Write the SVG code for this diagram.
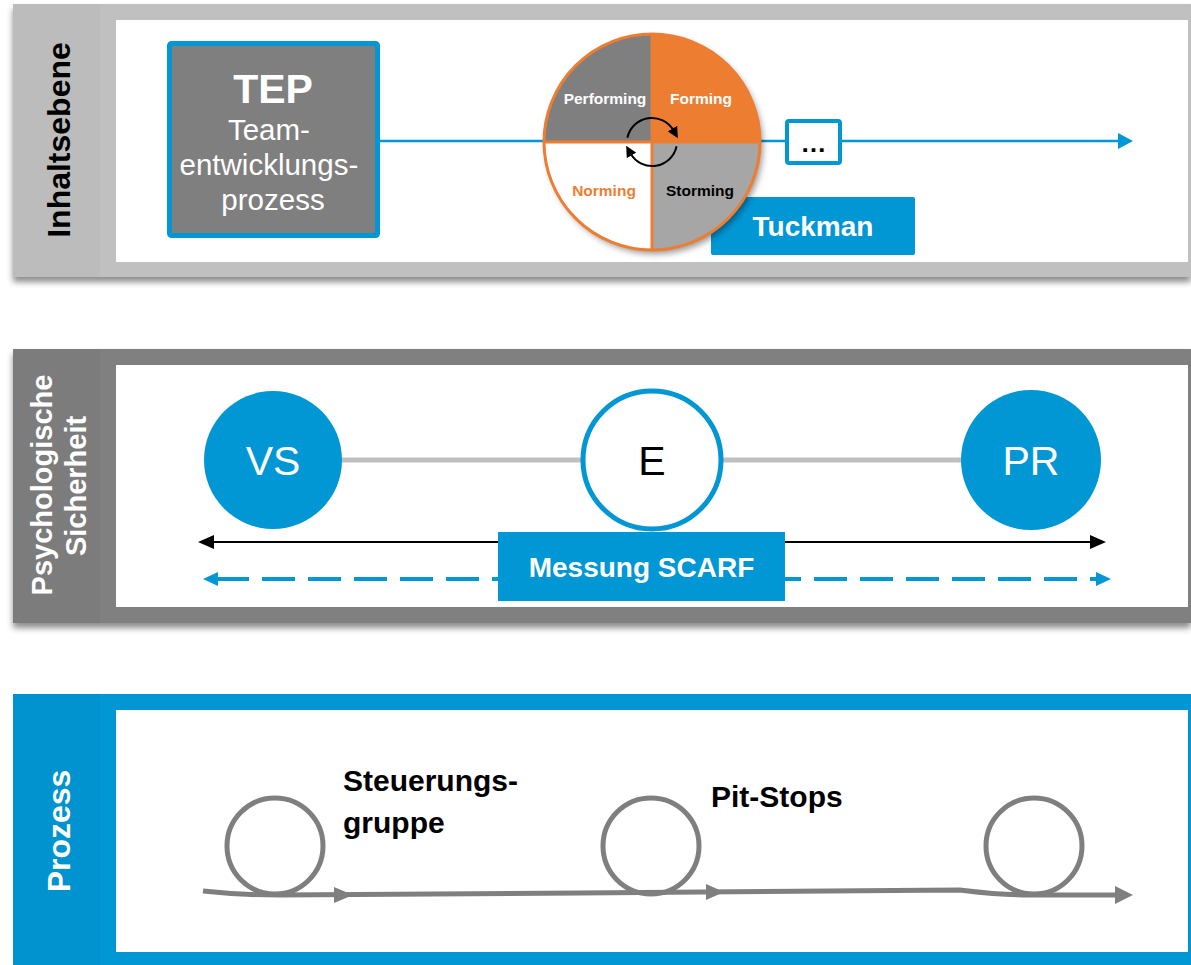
<svg xmlns="http://www.w3.org/2000/svg" width="1191" height="965" viewBox="0 0 1191 965">
  <defs>
    <filter id="panelShadow" x="-5%" y="-10%" width="110%" height="130%">
      <feDropShadow dx="0" dy="5" stdDeviation="3" flood-color="#000" flood-opacity="0.45"/>
    </filter>
    <filter id="discShadow" x="-20%" y="-20%" width="140%" height="140%">
      <feDropShadow dx="3" dy="4" stdDeviation="3" flood-color="#000" flood-opacity="0.4"/>
    </filter>
    <marker id="cycleHead" viewBox="0 0 10 10" refX="2" refY="5" markerWidth="11" markerHeight="11" markerUnits="userSpaceOnUse" orient="auto">
      <path d="M0,0 L10,5 L0,10 Z" fill="#000"/>
    </marker>
    <style>
      text { font-family: "Liberation Sans", Arial, sans-serif; }
      .blue { fill: #0097d4; }
      .inner { fill: #ffffff; }
      .sideLabel { font-weight: bold; font-size: 32px; text-anchor: middle; }
      .phase { font-weight: bold; font-size: 15.5px; text-anchor: middle; }
      .badge { font-weight: bold; font-size: 28px; fill: #fff; text-anchor: middle; }
      .stage { font-size: 41px; text-anchor: middle; }
      .link { stroke: #bfbfbf; stroke-width: 5; fill: none; }
      .loop { stroke: #7f7f7f; stroke-width: 5; fill: none; }
      .loopHead { fill: #7f7f7f; }
      .procLabel { font-weight: bold; font-size: 30px; fill: #000; }
    </style>
  </defs>

  <!-- Panel 1: Inhaltsebene -->
  <g id="panel-inhalt">
    <rect x="13" y="4" width="1178" height="273" fill="#c0c0c0" filter="url(#panelShadow)"/>
    <rect x="13" y="4" width="87" height="273" fill="#bcbcbc"/>
    <rect x="116" y="20" width="1072" height="242" class="inner"/>
    <text class="sideLabel" fill="#000" transform="translate(70,140) rotate(-90)">Inhaltsebene</text>
  </g>

  <!-- Panel 2: Psychologische Sicherheit -->
  <g id="panel-psych">
    <rect x="13" y="349" width="1178" height="274" fill="#808080" filter="url(#panelShadow)"/>
    <rect x="13" y="349" width="87" height="274" fill="#7c7c7c"/>
    <rect x="116" y="365" width="1072" height="242" class="inner"/>
    <text class="sideLabel" fill="#fff" style="font-size:29px" transform="translate(52,485) rotate(-90)">Psychologische</text>
    <text class="sideLabel" fill="#fff" style="font-size:29px" transform="translate(86,486) rotate(-90)">Sicherheit</text>
  </g>

  <!-- Panel 3: Prozess -->
  <g id="panel-prozess">
    <rect x="13" y="694" width="1178" height="271" class="blue"/>
    <rect x="13" y="694" width="87" height="271" fill="#0093d0"/>
    <rect x="116" y="710" width="1072" height="242" class="inner"/>
    <text class="sideLabel" fill="#fff" transform="translate(70,831) rotate(-90)">Prozess</text>
  </g>

  <!-- Connectors -->
  <g id="connectors">
    <!-- content timeline -->
    <line x1="380" y1="141" x2="1120" y2="141" stroke="#0097d4" stroke-width="2.5"/>
    <polygon points="1118,133 1133,141 1118,149" fill="#0097d4"/>
    <!-- safety scale links -->
    <line x1="340" y1="460" x2="583" y2="460" class="link"/>
    <line x1="721" y1="460" x2="963" y2="460" class="link"/>
    <!-- measurement range -->
    <line x1="212" y1="542" x2="1092" y2="542" stroke="#000" stroke-width="2"/>
    <polygon points="198,542 214,535 214,549" fill="#000"/>
    <polygon points="1106,542 1090,535 1090,549" fill="#000"/>
    <line x1="216" y1="579" x2="1098" y2="579" stroke="#0097d4" stroke-width="4" stroke-dasharray="33 13"/>
    <polygon points="203,579 218,572 218,586" fill="#0097d4"/>
    <polygon points="1111,579 1096,572 1096,586" fill="#0097d4"/>
    <!-- process path -->
    <path class="loop" d="M203,891 C230,894 250,895 280,895 L580,893 L960,890 C985,893 1000,895 1030,895 L1118,895"/>
    <polygon class="loopHead" points="334,887 353,895 334,903"/>
    <polygon class="loopHead" points="706,884 724,892 706,900"/>
    <polygon class="loopHead" points="1115,886 1133,895 1115,904"/>
  </g>

  <!-- TEP node -->
  <g id="node-tep">
    <rect x="169.5" y="43.5" width="208" height="192" rx="2" fill="#7f7f7f" stroke="#0097d4" stroke-width="5"/>
    <text x="273" y="103" text-anchor="middle" font-weight="bold" font-size="41" fill="#fff">TEP</text>
    <text text-anchor="middle" font-size="29.5" fill="#fff">
      <tspan x="273" y="140">Team-</tspan>
      <tspan x="273" y="175">entwicklungs-</tspan>
      <tspan x="273" y="210">prozess</tspan>
    </text>
  </g>

  <!-- Tuckman label (sits behind the wheel) -->
  <g id="node-tuckman-label">
    <rect x="711" y="197" width="204" height="58" rx="2" class="blue"/>
    <text class="badge" x="813" y="236">Tuckman</text>
  </g>

  <!-- Tuckman phase wheel -->
  <g id="node-tuckman-wheel">
    <g filter="url(#discShadow)">
      <circle cx="652" cy="142" r="108" fill="#fff"/>
    </g>
    <path d="M652,142 L544,142 A108,108 0 0 1 652,34 Z" fill="#7f7f7f"/>
    <path d="M652,142 L652,34 A108,108 0 0 1 760,142 Z" fill="#ed7d31"/>
    <path d="M652,142 L760,142 A108,108 0 0 1 652,250 Z" fill="#a6a6a6"/>
    <path d="M652,142 L652,250 A108,108 0 0 1 544,142 Z" fill="#fff"/>
    <line x1="652" y1="34" x2="652" y2="250" stroke="#ed7d31" stroke-width="3"/>
    <line x1="544" y1="142" x2="760" y2="142" stroke="#ed7d31" stroke-width="3"/>
    <circle cx="652" cy="142" r="108" fill="none" stroke="#ed7d31" stroke-width="3"/>
    <text class="phase" x="605" y="104" fill="#fff">Performing</text>
    <text class="phase" x="701" y="104" fill="#fff">Forming</text>
    <text class="phase" x="604" y="196" fill="#ed7d31">Norming</text>
    <text class="phase" x="700" y="196" fill="#000">Storming</text>
    <path d="M627.4,137.7 A25,25 0 0 1 673.5,130.5" fill="none" stroke="#000" stroke-width="2" marker-end="url(#cycleHead)"/>
    <path d="M676.6,146.3 A25,25 0 0 1 630.5,153.5" fill="none" stroke="#000" stroke-width="2" marker-end="url(#cycleHead)"/>
  </g>

  <!-- Continuation node -->
  <g id="node-more">
    <rect x="787" y="121" width="53" height="42" rx="2" fill="#fff" stroke="#0097d4" stroke-width="4"/>
    <text x="813.5" y="152" text-anchor="middle" font-weight="bold" font-size="26" fill="#000">…</text>
  </g>

  <!-- Safety stages -->
  <g id="node-vs">
    <circle cx="273" cy="460" r="69" class="blue"/>
    <text class="stage" x="273" y="475" fill="#fff">VS</text>
  </g>
  <g id="node-e">
    <circle cx="652" cy="460" r="69" fill="#fff" stroke="#0097d4" stroke-width="5"/>
    <text class="stage" x="652" y="475" fill="#000">E</text>
  </g>
  <g id="node-pr">
    <circle cx="1031" cy="460" r="70" class="blue"/>
    <text class="stage" x="1031" y="475" fill="#fff">PR</text>
  </g>

  <!-- SCARF measurement label -->
  <g id="node-scarf">
    <rect x="498" y="532" width="287" height="69" class="blue"/>
    <text class="badge" x="641.5" y="577">Messung SCARF</text>
  </g>

  <!-- Process loops -->
  <g id="node-steuerungsgruppe">
    <circle cx="275" cy="846" r="48" class="loop"/>
    <text class="procLabel">
      <tspan x="343" y="791">Steuerungs-</tspan>
      <tspan x="343" y="833">gruppe</tspan>
    </text>
  </g>
  <g id="node-pitstops">
    <circle cx="651" cy="846" r="48" class="loop"/>
    <text class="procLabel" x="711" y="807">Pit-Stops</text>
  </g>
  <g id="node-loop-end">
    <circle cx="1034" cy="846" r="48" class="loop"/>
  </g>
</svg>
